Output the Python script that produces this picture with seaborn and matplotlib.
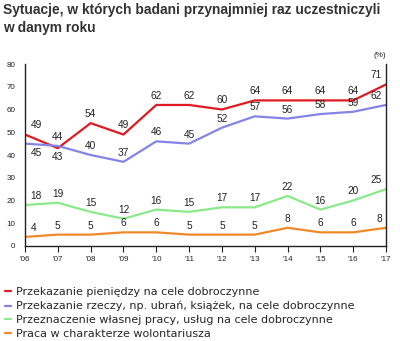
import matplotlib
matplotlib.use("Agg")
import matplotlib.pyplot as plt
import seaborn as sns
import pandas as pd

years = ["'06", "'07", "'08", "'09", "'10", "'11", "'12", "'13", "'14", "'15", "'16", "'17"]
money = [49, 43, 54, 49, 62, 62, 60, 64, 64, 64, 64, 71]
goods = [45, 44, 40, 37, 46, 45, 52, 57, 56, 58, 59, 62]
work = [18, 19, 15, 12, 16, 15, 17, 17, 22, 16, 20, 25]
volunteer = [4, 5, 5, 6, 6, 5, 5, 5, 8, 6, 6, 8]

series_names = [
    "Przekazanie pieniędzy na cele dobroczynne",
    "Przekazanie rzeczy, np. ubrań, książek, na cele dobroczynne",
    "Przeznaczenie własnej pracy, usług na cele dobroczynne",
    "Praca w charakterze wolontariusza",
]
colors = ["#e01a22", "#8484e6", "#8aea8a", "#f0892a"]
# label placement per point: +1 above, -1 below
label_side = [
    [1, -1, 1, 1, 1, 1, 1, 1, 1, 1, 1, 1],
    [-1, 1, 1, 1, 1, 1, 1, 1, 1, 1, 1, 1],
    [1] * 12,
    [1] * 12,
]

values = [money, goods, work, volunteer]
rows = []
for name, vals in zip(series_names, values):
    for i, (yr, v) in enumerate(zip(years, vals)):
        rows.append({"x": i, "year": yr, "value": v, "series": name})
df = pd.DataFrame(rows)

sns.set_theme(style="white")
plt.rcParams["font.family"] = ["Liberation Sans", "DejaVu Sans"]

fig = plt.figure(figsize=(4.0, 3.41), dpi=100)
ax = fig.add_axes([0.0625, 0.2786, 0.965 - 0.0625, 0.8123 - 0.2786])

sns.lineplot(data=df, x="x", y="value", hue="series", palette=colors,
             hue_order=series_names, linewidth=1.6, ax=ax, legend=False)

last = len(years) - 1
for vals, sides in zip(values, label_side):
    for i, (v, s) in enumerate(zip(vals, sides)):
        if i == 0:
            ha, dx = "left", 4
        elif i == last:
            ha, dx = "right", -3
        else:
            ha, dx = "center", 0
        ax.annotate(str(v), (i, v), xytext=(dx, 6.5 * s), textcoords="offset points",
                    ha=ha, va="center", fontsize=7.3, color="#222222")

ax.set_xlim(0, 11)
ax.set_ylim(0, 80)
ax.set_xticks(range(len(years)))
ax.set_xticklabels(years, fontsize=5.8, color="#222222")
ax.set_yticks(range(0, 81, 10))
ax.set_yticklabels([str(t) for t in range(0, 81, 10)], fontsize=5.8, color="#222222")
ax.set_xlabel("")
ax.set_ylabel("")
ax.tick_params(axis="x", direction="out", length=4, width=0.8, color="#222222", pad=3, bottom=True)
ax.tick_params(axis="y", length=0, pad=7, left=True)
for side in ["left", "right", "bottom"]:
    ax.spines[side].set_visible(True)
    ax.spines[side].set_color("#222222")
    ax.spines[side].set_linewidth(1.0)
ax.spines["top"].set_visible(False)

ax.text(1.0, 1.03, "(%)", transform=ax.transAxes, ha="right", va="bottom",
        fontsize=5.8, color="#222222")

fig.text(0.008, 0.99, "Sytuacje, w których badani przynajmniej raz uczestniczyli\nw danym roku",
         ha="left", va="top", fontsize=9.9, fontweight="bold", color="#333333", linespacing=1.3)

handles = [plt.Line2D([], [], color=c, linewidth=1.6) for c in colors]
fig.legend(handles, series_names, loc="upper left", bbox_to_anchor=(0.012, 0.158),
           frameon=False, handlelength=0.6, handletextpad=0.45, labelspacing=0.34,
           borderaxespad=0, borderpad=0.0,
           prop={"family": "DejaVu Sans", "size": 8})

fig.savefig("out.png", dpi=100)
